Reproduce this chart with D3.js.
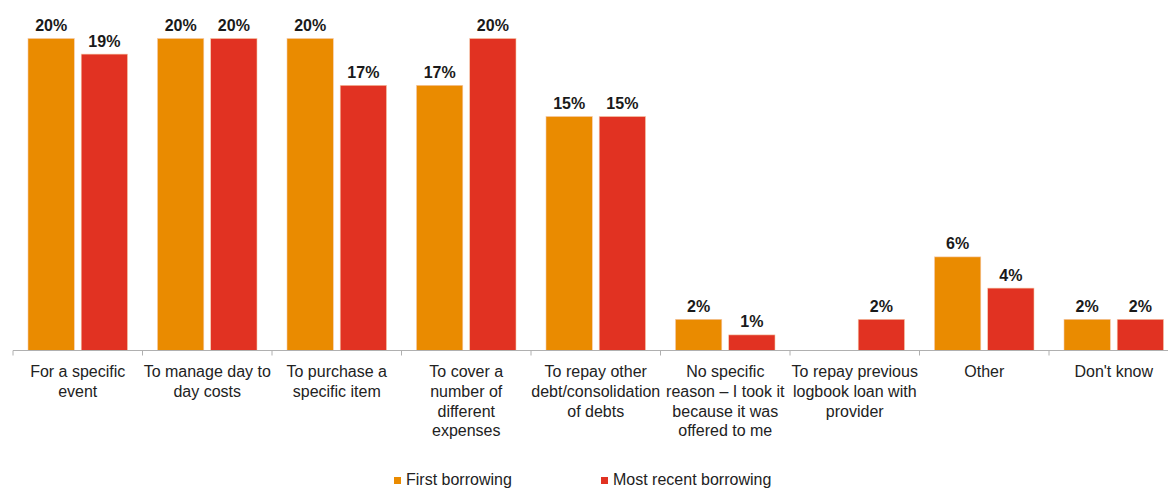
<!DOCTYPE html>
<html>
<head>
    <script src="https://d3js.org/d3.v7.min.js"></script>
    <style>
        body { margin: 0; background: #fff; }
        svg { display: block; font-family: "Liberation Sans", Arial, sans-serif; }
    </style>
</head>
<body>
    <svg id="plot" height="490" width="1168"></svg>
    <script>
        const categories = [
            ["For a specific", "event"],
            ["To manage day to", "day costs"],
            ["To purchase a", "specific item"],
            ["To cover a", "number of", "different", "expenses"],
            ["To repay other", "debt/consolidation", "of debts"],
            ["No specific", "reason \u2013 I took it", "because it was", "offered to me"],
            ["To repay previous", "logbook loan with", "provider"],
            ["Other"],
            ["Don't know"]
        ];
        const seriesNames = ["First borrowing", "Most recent borrowing"];
        const firstBorrowing = [20, 20, 20, 17, 15, 2, null, 6, 2];
        const recentBorrowing = [19, 20, 17, 20, 15, 1, 2, 4, 2];
        const colors = ["#ea8b00", "#e13222"];

        const svg = d3.select('svg#plot');
        const baseY = 350.5;

        const catKeys = categories.map((c, i) => i);
        const xScale = d3.scaleBand().domain(catKeys).range([13, 13 + 9 * 129.5]).padding(0);
        const subScale = d3.scaleBand().domain(seriesNames).range([15, 114.5]).paddingInner(0.13);
        const yScale = d3.scaleLinear().domain([0, 20]).range([baseY, 38.5]);

        const allSeries = [firstBorrowing, recentBorrowing];

        // bars
        allSeries.forEach((vals, s) => {
            vals.forEach((v, i) => {
                if (v === null) return;
                const x = xScale(i) + subScale(seriesNames[s]);
                svg.append('rect')
                    .attr('x', x)
                    .attr('y', yScale(v))
                    .attr('width', subScale.bandwidth())
                    .attr('height', baseY - yScale(v))
                    .style('fill', colors[s])
                    .style('stroke', '#f6c9a8')
                    .style('stroke-width', 0.6);
                svg.append('text')
                    .attr('x', x + subScale.bandwidth() / 2)
                    .attr('y', yScale(v) - 7.5)
                    .attr('text-anchor', 'middle')
                    .attr('font-size', '16px')
                    .attr('font-weight', 'bold')
                    .style('fill', '#1a1a1a')
                    .text(v + '%');
            });
        });

        // axis line
        svg.append('line')
            .attr('x1', 13).attr('x2', 1168)
            .attr('y1', baseY).attr('y2', baseY)
            .style('stroke', '#b0b0b0').style('stroke-width', 1);

        // ticks at category boundaries
        catKeys.forEach(i => {
            svg.append('line')
                .attr('x1', xScale(i)).attr('x2', xScale(i))
                .attr('y1', baseY).attr('y2', baseY + 5)
                .style('stroke', '#b0b0b0').style('stroke-width', 1);
        });

        // category labels
        categories.forEach((lines, i) => {
            const t = svg.append('text')
                .attr('text-anchor', 'middle')
                .attr('font-size', '16px')
                .style('fill', '#222');
            lines.forEach((ln, j) => {
                t.append('tspan')
                    .attr('x', xScale(i) + xScale.bandwidth() / 2)
                    .attr('y', 377 + j * 19.8)
                    .text(ln);
            });
        });

        // legend
        const legendX = [394, 601];
        seriesNames.forEach((name, s) => {
            svg.append('rect')
                .attr('x', legendX[s]).attr('y', 477)
                .attr('width', 7).attr('height', 7)
                .style('fill', colors[s]);
            svg.append('text')
                .attr('x', legendX[s] + 12)
                .attr('y', 485)
                .attr('font-size', '16px')
                .style('fill', '#222')
                .text(name);
        });
    </script>
</body>
</html>
